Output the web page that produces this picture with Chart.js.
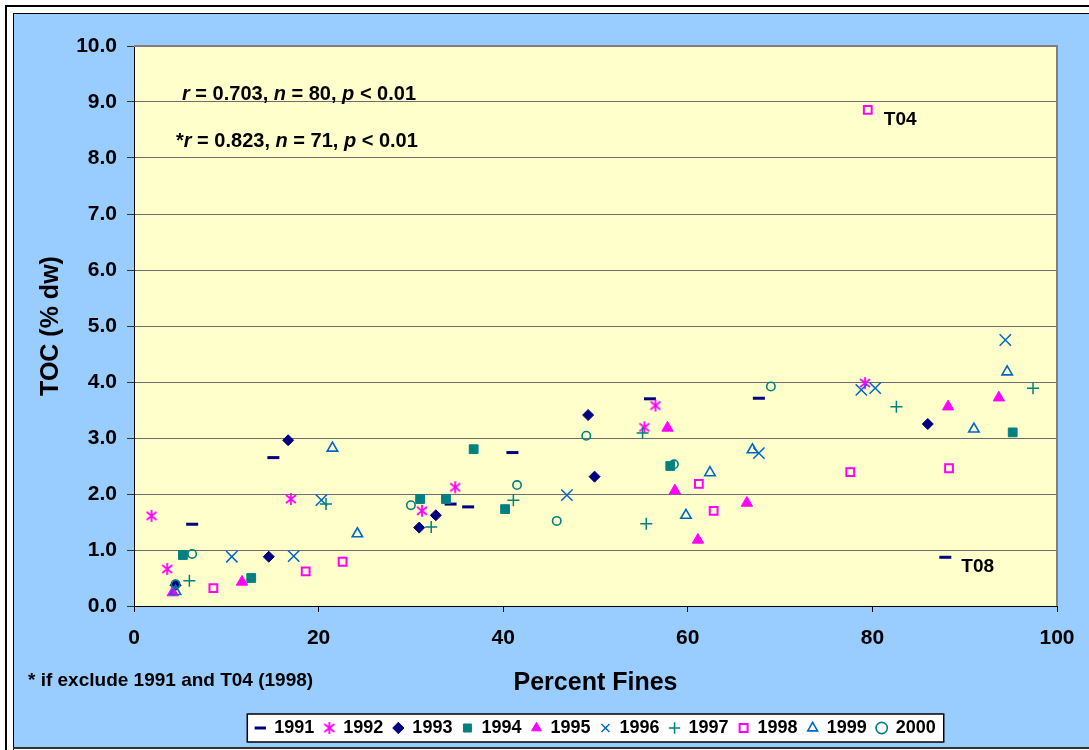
<!DOCTYPE html>
<html>
<head>
<meta charset="utf-8">
<script src="https://cdn.jsdelivr.net/npm/chart.js@4.4.1/dist/chart.umd.min.js"></script>
<style>
  html, body { margin: 0; padding: 0; background: #ffffff; }
  canvas { display: block; }
</style>
</head>
<body>
<canvas id="tocChart" width="1089" height="750"></canvas>
<script>
const years = ["1991", "1992", "1993", "1994", "1995", "1996", "1997", "1998", "1999", "2000"]

// percent fines (x) and TOC % dw (y)
const fines1991 = [6.3, 15.1, 34.3, 36.2, 41.0, 55.9, 67.7, 87.9]
const toc1991 = [1.46, 2.65, 1.82, 1.77, 2.74, 3.70, 3.71, 0.87]
const fines1992 = [1.9, 3.6, 17.0, 31.2, 34.8, 55.3, 56.5, 79.2]
const toc1992 = [1.61, 0.66, 1.91, 1.70, 2.12, 3.19, 3.58, 3.98]
const fines1993 = [4.5, 14.6, 16.7, 30.9, 32.7, 49.2, 49.9, 86.0]
const toc1993 = [0.37, 0.88, 2.96, 1.40, 1.62, 3.41, 2.31, 3.25]
const fines1994 = [5.3, 12.7, 31.0, 33.8, 36.8, 40.2, 58.1, 95.2]
const toc1994 = [0.91, 0.50, 1.91, 1.91, 2.80, 1.73, 2.50, 3.10]
const fines1995 = [4.2, 11.7, 57.8, 58.6, 61.1, 66.4, 88.2, 93.7]
const toc1995 = [0.24, 0.43, 3.18, 2.06, 1.18, 1.84, 3.56, 3.72]
const fines1996 = [10.6, 17.3, 20.3, 46.9, 67.7, 78.8, 80.3, 94.4]
const toc1996 = [0.88, 0.89, 1.89, 1.98, 2.73, 3.86, 3.89, 4.75]
const fines1997 = [6.0, 20.8, 32.2, 41.1, 55.1, 55.5, 82.6, 97.4]
const toc1997 = [0.45, 1.82, 1.41, 1.89, 3.09, 1.47, 3.56, 3.89]
const fines1998 = [8.6, 18.6, 22.6, 61.2, 62.8, 77.6, 79.5, 88.3]
const toc1998 = [0.32, 0.62, 0.79, 2.18, 1.70, 2.39, 8.86, 2.46]
const fines1999 = [4.5, 21.5, 24.2, 59.8, 62.4, 67.0, 91.0, 94.6]
const toc1999 = [0.26, 2.82, 1.29, 1.62, 2.38, 2.79, 3.16, 4.18]
const fines2000 = [4.5, 6.3, 30.0, 41.5, 45.8, 49.0, 58.5, 69.0]
const toc2000 = [0.39, 0.93, 1.80, 2.16, 1.52, 3.04, 2.53, 3.92]

const yTicks = [0, 1, 2, 3, 4, 5, 6, 7, 8, 9, 10]
const xTicks = [0, 20, 40, 60, 80, 100]

// station labels next to single points
const stationNames = ["T04", "T08"]
const stationYears = ["1998", "1991"]
const stationIndex = [6, 7]

const allFines = [fines1991, fines1992, fines1993, fines1994, fines1995, fines1996, fines1997, fines1998, fines1999, fines2000]
const allToc = [toc1991, toc1992, toc1993, toc1994, toc1995, toc1996, toc1997, toc1998, toc1999, toc2000]

const NAVY = "#000080"
const PINK = "#FF00FF"
const TEAL = "#008080"
const BLUE = "#0066CC"
const FONT = "'Liberation Sans', Arial, Helvetica, sans-serif"

// Excel-like asterisk marker (X plus a vertical bar)
function makeAsterisk(color) {
  const c = document.createElement("canvas")
  c.width = 14
  c.height = 14
  const g = c.getContext("2d")
  g.strokeStyle = color
  g.lineWidth = 1.8
  g.beginPath()
  g.moveTo(7, 1); g.lineTo(7, 13)
  g.moveTo(2, 3); g.lineTo(12, 11)
  g.moveTo(12, 3); g.lineTo(2, 11)
  g.stroke()
  return c
}

const markerStyles = [
  { pointStyle: "line", pointRadius: 6, borderColor: NAVY, backgroundColor: NAVY, borderWidth: 3 },
  { pointStyle: makeAsterisk(PINK), pointRadius: 6, borderColor: PINK, backgroundColor: PINK, borderWidth: 1 },
  { pointStyle: "rectRot", pointRadius: 5.5, borderColor: NAVY, backgroundColor: NAVY, borderWidth: 1 },
  { pointStyle: "rect", pointRadius: 6.2, borderColor: TEAL, backgroundColor: TEAL, borderWidth: 1 },
  { pointStyle: "triangle", pointRadius: 6.5, borderColor: PINK, backgroundColor: PINK, borderWidth: 1 },
  { pointStyle: "crossRot", pointRadius: 8, borderColor: BLUE, backgroundColor: BLUE, borderWidth: 1.5 },
  { pointStyle: "cross", pointRadius: 6, borderColor: TEAL, backgroundColor: TEAL, borderWidth: 1.5 },
  { pointStyle: "rect", pointRadius: 5.5, borderColor: PINK, backgroundColor: "rgba(0,0,0,0)", borderWidth: 2 },
  { pointStyle: "triangle", pointRadius: 6, borderColor: BLUE, backgroundColor: "rgba(0,0,0,0)", borderWidth: 1.6 },
  { pointStyle: "circle", pointRadius: 4.2, borderColor: TEAL, backgroundColor: "rgba(0,0,0,0)", borderWidth: 1.6 }
]

const datasets = years.map((year, i) => {
  const m = markerStyles[i]
  return {
    label: year,
    data: allFines[i].map((x, j) => ({ x: x, y: allToc[i][j] })),
    pointStyle: m.pointStyle,
    pointRadius: m.pointRadius,
    pointHoverRadius: m.pointRadius,
    pointBorderWidth: m.borderWidth,
    borderColor: m.borderColor,
    backgroundColor: m.backgroundColor,
    pointBorderColor: m.borderColor,
    pointBackgroundColor: m.backgroundColor,
    showLine: false,
    order: -i // later years drawn on top, like the original
  }
})

// draw mixed bold / bold-italic text
function drawRuns(ctx, runs, x, y, size) {
  ctx.save()
  ctx.fillStyle = "#000"
  ctx.textBaseline = "alphabetic"
  ctx.textAlign = "left"
  runs.forEach(run => {
    ctx.font = (run[1] ? "italic " : "") + "bold " + size + "px " + FONT
    ctx.fillText(run[0], x, y)
    x += ctx.measureText(run[0]).width
  })
  ctx.restore()
}

const backdrop = {
  id: "backdrop",
  beforeDraw(chart) {
    const { ctx, chartArea, width, height } = chart
    ctx.save()
    ctx.fillStyle = "#ffffff"
    ctx.fillRect(0, 0, width, height)
    // outer and inner frame lines
    ctx.fillStyle = "#000"
    ctx.fillRect(5, 5, width, 2)
    ctx.fillRect(5, 5, 2, height)
    ctx.fillStyle = "#99CCFF"
    ctx.fillRect(14, 14, width - 14, height - 17)
    ctx.fillStyle = "#000"
    ctx.fillRect(13, 13, width, 1)
    ctx.fillRect(13, 13, 1, height)
    ctx.fillStyle = "#333"
    ctx.fillRect(13, height - 3, width, 2)
    // plot area
    ctx.fillStyle = "#FFFFCC"
    ctx.fillRect(chartArea.left, chartArea.top, chartArea.right - chartArea.left, chartArea.bottom - chartArea.top)
    // legend box
    const boxes = chart.legend.legendHitBoxes
    if (boxes && boxes.length) {
      const left = Math.min(...boxes.map(b => b.left)) - 8
      const right = Math.max(...boxes.map(b => b.left + b.width)) + 8
      const top = boxes[0].top - 5
      ctx.fillStyle = "#ffffff"
      ctx.fillRect(left, top, right - left, 28)
      ctx.strokeStyle = "#000"
      ctx.lineWidth = 1.5
      ctx.strokeRect(left, top, right - left, 28)
    }
    ctx.restore()
  },
  beforeDatasetsDraw(chart) {
    const { ctx, chartArea } = chart
    ctx.save()
    ctx.strokeStyle = "#808080"
    ctx.lineWidth = 2
    ctx.beginPath()
    ctx.moveTo(chartArea.left, chartArea.top)
    ctx.lineTo(chartArea.right, chartArea.top)
    ctx.lineTo(chartArea.right, chartArea.bottom)
    ctx.stroke()
    ctx.restore()
  },
  afterDraw(chart) {
    const ctx = chart.ctx
    drawRuns(ctx, [["r", true], [" = 0.703, ", false], ["n", true], [" = 80, ", false], ["p", true], [" < 0.01", false]], 182, 100, 20)
    drawRuns(ctx, [["*", false], ["r", true], [" = 0.823, ", false], ["n", true], [" = 71, ", false], ["p", true], [" < 0.01", false]], 176, 147, 20)
    drawRuns(ctx, [["* if exclude 1991 and T04 (1998)", false]], 28, 686, 19)
    const xs = chart.scales.x
    const ys = chart.scales.y
    stationNames.forEach((name, k) => {
      const di = years.indexOf(stationYears[k])
      const px = xs.getPixelForValue(allFines[di][stationIndex[k]])
      const py = ys.getPixelForValue(allToc[di][stationIndex[k]])
      drawRuns(ctx, [[name, false]], px + 16, py + 15, 19)
    })
  }
}

Chart.defaults.font.family = FONT
Chart.defaults.color = "#000"

new Chart(document.getElementById("tocChart"), {
  type: "scatter",
  data: { datasets: datasets },
  plugins: [backdrop],
  options: {
    responsive: false,
    animation: false,
    events: [],
    layout: { padding: { left: 25, top: 46, right: 32, bottom: 3 } },
    scales: {
      x: {
        type: "linear",
        min: 0,
        max: 100,
        afterBuildTicks: scale => { scale.ticks = xTicks.map(v => ({ value: v })) },
        afterFit: scale => { scale.height = 103 },
        ticks: { font: { size: 21, weight: "bold" }, color: "#000", padding: 14 },
        grid: { drawOnChartArea: false, drawTicks: true, tickLength: 6, tickColor: "#000" },
        border: { display: true, color: "#000", width: 1 },
        title: { display: true, text: "Percent Fines", font: { size: 25, weight: "bold" }, color: "#000", padding: { top: 4, bottom: 11 } }
      },
      y: {
        type: "linear",
        min: 0,
        max: 10,
        afterBuildTicks: scale => { scale.ticks = yTicks.map(v => ({ value: v })) },
        afterFit: scale => { scale.width = 109 },
        ticks: { font: { size: 21, weight: "bold" }, color: "#000", padding: 10, callback: v => v.toFixed(1) },
        grid: { color: "#6E6E6E", lineWidth: 1, drawTicks: true, tickLength: 7, tickColor: "#333" },
        border: { display: true, color: "#000", width: 1 },
        title: { display: true, text: "TOC (% dw)", font: { size: 25, weight: "bold" }, color: "#000", padding: { top: 11, bottom: 11 } }
      }
    },
    plugins: {
      legend: {
        position: "bottom",
        fullSize: false,
        labels: {
          usePointStyle: true,
          boxHeight: 8,
          boxWidth: 10,
          padding: 10,
          color: "#000",
          font: { size: 18, weight: "bold" },
          sort: (a, b) => a.datasetIndex - b.datasetIndex
        }
      },
      tooltip: { enabled: false }
    }
  }
})
</script>
</body>
</html>
